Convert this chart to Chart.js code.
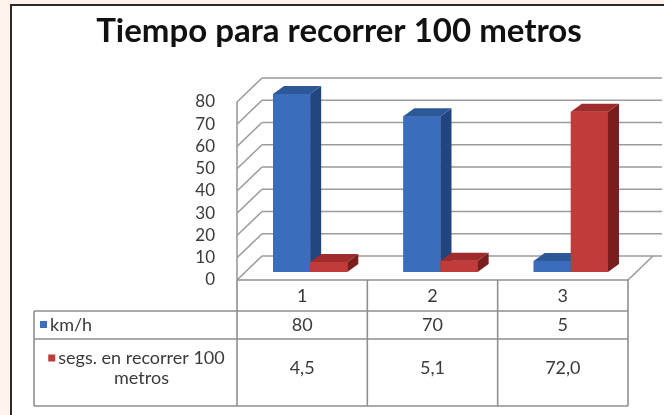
<!DOCTYPE html>
<html><head><meta charset="utf-8">
<style>
html,body{margin:0;padding:0;background:#fdf3ec;}
canvas{display:block;}
</style>
<script src="https://cdn.jsdelivr.net/npm/chart.js@4/dist/chart.umd.min.js"></script>
</head><body>
<canvas id="c" width="664" height="415"></canvas>
<script>
const titleText = 'Tiempo para recorrer 100 metros';
const categories = ['1', '2', '3'];
const kmh = [80, 70, 5];
const segs = [4.5, 5.1, 72.0];
const seriesNames = ['km/h', 'segs. en recorrer 100 metros'];
const seriesLabelLines = [['km/h'], ['segs. en recorrer 100', 'metros']];
const yMin = 0, yMax = 80, yStep = 10;

const FRONT = {dx: -8, dy: 8};
const BACK = {dx: 17, dy: -16};
const DEPTH = {dx: 11, dy: -8};
const colors = [
  {front: '#3b6dbc', side: '#21457f', top: '#2d5898'},
  {front: '#c13b39', side: '#7b1c1d', top: '#9f2c2b'}
];
const gridColor = '#9b9b9b';
const textColor = '#3a3a3a';
const FONT = 'Lato';

function fmtKmh(v){ return String(v); }
function fmtSegs(v){ return v.toFixed(1).replace('.', ','); }

const framePlugin = {
  id: 'frame',
  beforeDraw(chart){
    const ctx = chart.ctx;
    ctx.save();
    ctx.fillStyle = '#fdf3ec';
    ctx.fillRect(0, 0, chart.width, chart.height);
    ctx.fillStyle = '#ffffff';
    ctx.fillRect(11, 4, chart.width - 11, chart.height - 4);
    ctx.strokeStyle = '#2b2b2b';
    ctx.lineWidth = 2;
    ctx.beginPath();
    ctx.moveTo(11, chart.height); ctx.lineTo(11, 5); ctx.lineTo(chart.width, 5);
    ctx.stroke();
    ctx.fillStyle = '#111111';
    ctx.font = 'bold 33px ' + FONT;
    ctx.textAlign = 'center';
    ctx.textBaseline = 'middle';
    ctx.fillText(titleText, 339, 31);
    ctx.restore();
  }
};

const wallsPlugin = {
  id: 'walls',
  beforeDatasetsDraw(chart){
    const ctx = chart.ctx, ca = chart.chartArea, ys = chart.scales.y;
    ctx.save();
    ctx.strokeStyle = gridColor;
    ctx.lineWidth = 1.6;
    ctx.beginPath();
    for (let v = yMin; v <= yMax; v += yStep){
      const py = ys.getPixelForValue(v);
      ctx.moveTo(ca.left + BACK.dx, py + BACK.dy);
      ctx.lineTo(chart.width - 2, py + BACK.dy);
      ctx.moveTo(ca.left + FRONT.dx, py + FRONT.dy);
      ctx.lineTo(ca.left + BACK.dx, py + BACK.dy);
    }
    const p0 = ys.getPixelForValue(yMin), p1 = ys.getPixelForValue(yMax);
    ctx.moveTo(ca.left + FRONT.dx, p1 + FRONT.dy);
    ctx.lineTo(ca.left + FRONT.dx, p0 + FRONT.dy);
    ctx.moveTo(ca.right + FRONT.dx, p0 + FRONT.dy);
    ctx.lineTo(ca.right + BACK.dx, p0 + BACK.dy);
    ctx.stroke();
    ctx.restore();
  }
};

const bars3dPlugin = {
  id: 'bars3d',
  afterDatasetsDraw(chart){
    const ctx = chart.ctx;
    ctx.save();
    chart.data.datasets.forEach((ds, i) => {
      const meta = chart.getDatasetMeta(i);
      const c = colors[i];
      meta.data.forEach(el => {
        const p = el.getProps(['x', 'y', 'base', 'width'], true);
        const l = p.x - p.width / 2, r = p.x + p.width / 2;
        const t = Math.min(p.y, p.base), b = Math.max(p.y, p.base);
        ctx.fillStyle = c.front;
        ctx.fillRect(l, t, r - l, b - t);
        ctx.fillStyle = c.side;
        ctx.beginPath();
        ctx.moveTo(r, t); ctx.lineTo(r + DEPTH.dx, t + DEPTH.dy);
        ctx.lineTo(r + DEPTH.dx, b + DEPTH.dy); ctx.lineTo(r, b); ctx.closePath();
        ctx.fill();
        ctx.fillStyle = c.top;
        ctx.beginPath();
        ctx.moveTo(l, t); ctx.lineTo(l + DEPTH.dx, t + DEPTH.dy);
        ctx.lineTo(r + DEPTH.dx, t + DEPTH.dy); ctx.lineTo(r, t); ctx.closePath();
        ctx.fill();
      });
    });
    ctx.restore();
  }
};

const tablePlugin = {
  id: 'table',
  afterDraw(chart){
    const ctx = chart.ctx, ca = chart.chartArea, xs = chart.scales.x, ys = chart.scales.y;
    const n = categories.length;
    const catW = (ca.right - ca.left) / n;
    const cols = [34];
    for (let i = 0; i < n; i++) cols.push(xs.getPixelForValue(i) - catW / 2 + FRONT.dx);
    cols.push(ca.right + FRONT.dx);
    const top = ys.getPixelForValue(yMin) + FRONT.dy;
    const rows = [top, 311, 339, 406];
    ctx.save();
    ctx.strokeStyle = '#8f8f8f';
    ctx.lineWidth = 1.6;
    ctx.beginPath();
    ctx.moveTo(cols[1], rows[0]); ctx.lineTo(cols[n + 1], rows[0]);
    for (let r = 1; r < rows.length; r++){ ctx.moveTo(cols[0], rows[r]); ctx.lineTo(cols[n + 1], rows[r]); }
    ctx.moveTo(cols[0], rows[1]); ctx.lineTo(cols[0], rows[3]);
    for (let c = 1; c <= n + 1; c++){ ctx.moveTo(cols[c], rows[0]); ctx.lineTo(cols[c], rows[3]); }
    ctx.stroke();

    ctx.fillStyle = textColor;
    ctx.font = '18px ' + FONT;
    ctx.textAlign = 'center';
    ctx.textBaseline = 'middle';
    for (let i = 0; i < n; i++){
      const cx = (cols[i + 1] + cols[i + 2]) / 2;
      ctx.fillText(categories[i], cx, (rows[0] + rows[1]) / 2 + 1);
      ctx.fillText(fmtKmh(kmh[i]), cx, (rows[1] + rows[2]) / 2);
      ctx.fillText(fmtSegs(segs[i]), cx, (rows[2] + rows[3]) / 2 - 4);
    }
    const labelCx = (cols[0] + cols[1]) / 2 + 6;
    [1, 2].forEach((r, si) => {
      const lines = seriesLabelLines[si];
      const rowMid = (rows[r] + rows[r + 1]) / 2 - (si === 1 ? 4 : 0);
      const lh = 20;
      lines.forEach((ln, li) => {
        const y = rowMid + (li - (lines.length - 1) / 2) * lh;
        if (si === 0){
          ctx.textAlign = 'left';
          ctx.fillText(ln, 50, y);
          ctx.fillStyle = colors[si].front; ctx.fillRect(40, y - 4, 7, 7); ctx.fillStyle = textColor;
        } else {
          ctx.textAlign = 'center';
          ctx.fillText(ln, labelCx, y);
          if (li === 0){
            const w = ctx.measureText(ln).width;
            ctx.fillStyle = colors[si].front;
            ctx.fillRect(labelCx - w / 2 - 10, y - 4, 7, 7);
            ctx.fillStyle = textColor;
          }
        }
      });
    });
    ctx.restore();
  }
};

new Chart(document.getElementById('c'), {
  type: 'bar',
  data: {
    labels: categories,
    datasets: [
      {label: seriesNames[0], data: kmh, backgroundColor: colors[0].front},
      {label: seriesNames[1], data: segs, backgroundColor: colors[1].front}
    ]
  },
  options: {
    responsive: false,
    animation: false,
    devicePixelRatio: 1,
    datasets: {bar: {barPercentage: 1.0, categoryPercentage: 0.57, borderWidth: 0}},
    layout: {padding: {left: 175, right: 28, top: 94, bottom: 143}},
    plugins: {
      legend: {display: false},
      tooltip: {enabled: false},
      title: {display: false}
    },
    scales: {
      x: {display: false},
      y: {
        min: yMin, max: yMax,
        ticks: {stepSize: yStep, autoSkip: false, padding: 30, labelOffset: 8, color: textColor, font: {family: FONT, size: 17}},
        grid: {display: false, drawTicks: false},
        border: {display: false},
        afterFit(s){ s.width = 70; }
      }
    }
  },
  plugins: [framePlugin, wallsPlugin, bars3dPlugin, tablePlugin]
});
</script>
</body></html>
